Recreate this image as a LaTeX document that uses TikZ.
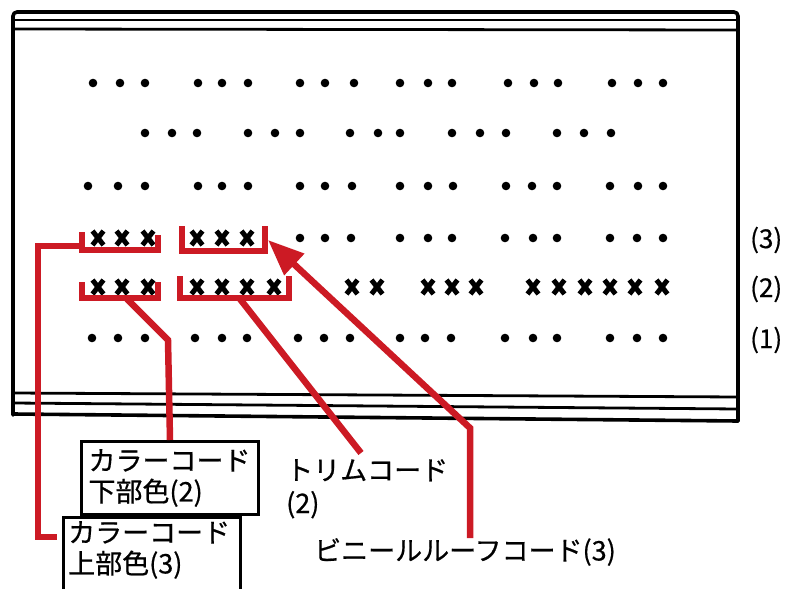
\documentclass[tikz,border=0pt]{standalone}
\usepackage{fontspec}
\setmainfont{Noto Sans CJK JP}[FakeBold=0.6]
\usetikzlibrary{arrows.meta}
\definecolor{leadred}{RGB}{204,26,36}
\tikzset{
  frameline/.style={line width=3.6pt, black, line cap=round, line join=round},
  railline/.style={line width=2.8pt, black},
  dotmark/.style={fill=black},
  xmk/.pic={\draw[line width=5pt, black] (-5.5,-7)--(5.5,7) (-5.5,7)--(5.5,-7);},
  bracket/.style={line width=6.5pt, leadred, line cap=butt, line join=miter},
  leader/.style={line width=6.5pt, leadred, line join=miter},
  lbl/.style={font=\fontsize{27}{31}\selectfont, inner sep=0pt, align=left},
  rowlbl/.style={font=\fontsize{26}{28}\selectfont, inner sep=0pt, anchor=west},
  boxline/.style={line width=3pt, black},
}
\begin{document}
\begin{tikzpicture}[x=1pt,y=-1pt]
\useasboundingbox (0,0) rectangle (796,589);
% frame
\draw[frameline, rounded corners=4pt] (13,415) -- (13,12) -- (738,12) -- (738,421);
\draw[railline] (13,20) -- (738,20);
\draw[railline] (13,29) -- (738,30);
\draw[railline] (13,393) -- (738,397);
\draw[railline] (13,403) -- (738,409);
\draw[frameline] (13,414) -- (738,421);
% dots
\foreach \x in {93,120,145,198,222,248,300,325,354,400,428,452,508,534,558,612,638,663}
  \fill[dotmark] (\x,83) circle (4.3pt);
\foreach \x in {145,172,197,248,275,300,350,378,400,452,480,506,557,584,611}
  \fill[dotmark] (\x,133) circle (4.3pt);
\foreach \x in {88,118,145,198,222,248,300,325,352,400,428,453,506,532,557,610,638,663}
  \fill[dotmark] (\x,186) circle (4.3pt);
\foreach \x in {300,325,351,400,428,452,505,533,557,610,637,663}
  \fill[dotmark] (\x,238) circle (4.3pt);
\foreach \x in {92,118,145,195,222,247,298,324,350,400,425,451,505,533,557,610,637,663}
  \fill[dotmark] (\x,338) circle (4.3pt);
% X marks
\foreach \x in {98,122,148,197,222,247}
  \pic at (\x,238) {xmk};
\foreach \x in {98,122,148,197,222,247,274,352,377,428,452,476,533,559,585,610,635,662}
  \pic at (\x,287) {xmk};
% row labels
\node[rowlbl] (r3) at (750,240) {(3)};
\node[rowlbl] (r2) at (750,289) {(2)};
\node[rowlbl] (r1) at (750,340) {(1)};
% brackets
\draw[bracket] (82,232) -- (82,250) -- (158,250) -- (158,235);
\draw[bracket] (182,226) -- (182,251) -- (265,251) -- (265,226);
\draw[bracket] (82,282) -- (82,298) -- (158,298) -- (158,282);
\draw[bracket] (180,276) -- (180,298) -- (289,298) -- (289,276);
\coordinate (b3l) at (82,246);
\coordinate (b3r) at (268,240);
\coordinate (b2l) at (127,299);
\coordinate (b2r) at (240,299);
% label boxes
\node[lbl, draw, boxline, anchor=north west, text width=163pt, minimum height=73pt,
      inner xsep=7pt, inner ysep=0pt] (lower) at (80,440)
  {カラーコード\\下部色(2)};
\node[lbl, anchor=north west, text width=165pt] (upper) at (68,521)
  {カラーコード\\上部色(3)};
\draw[boxline] (63,620) -- (63,517) -- (240,517) -- (240,620);
\node[lbl, anchor=north west, font=\fontsize{27}{33}\selectfont] (trim) at (286,459)
  {トリムコード\\(2)};
\node[lbl, anchor=west] (vinyl) at (314,552) {ビニールルーフコード(3)};
\coordinate (c1end) at (57,537);
\coordinate (c2bend) at (168,340);
\coordinate (c4bend) at (470,428);
% leaders
\draw[leader] (b3l) -- (38,246) |- (c1end);
\draw[leader] (b2l) -- (c2bend) -- (lower.north);
\draw[leader] (b2r) -- (361,453);
\draw[leader, -{Triangle[length=36pt,width=28pt]}] (c4bend |- vinyl.north) -- (c4bend) -- (b3r);
\end{tikzpicture}
\end{document}
